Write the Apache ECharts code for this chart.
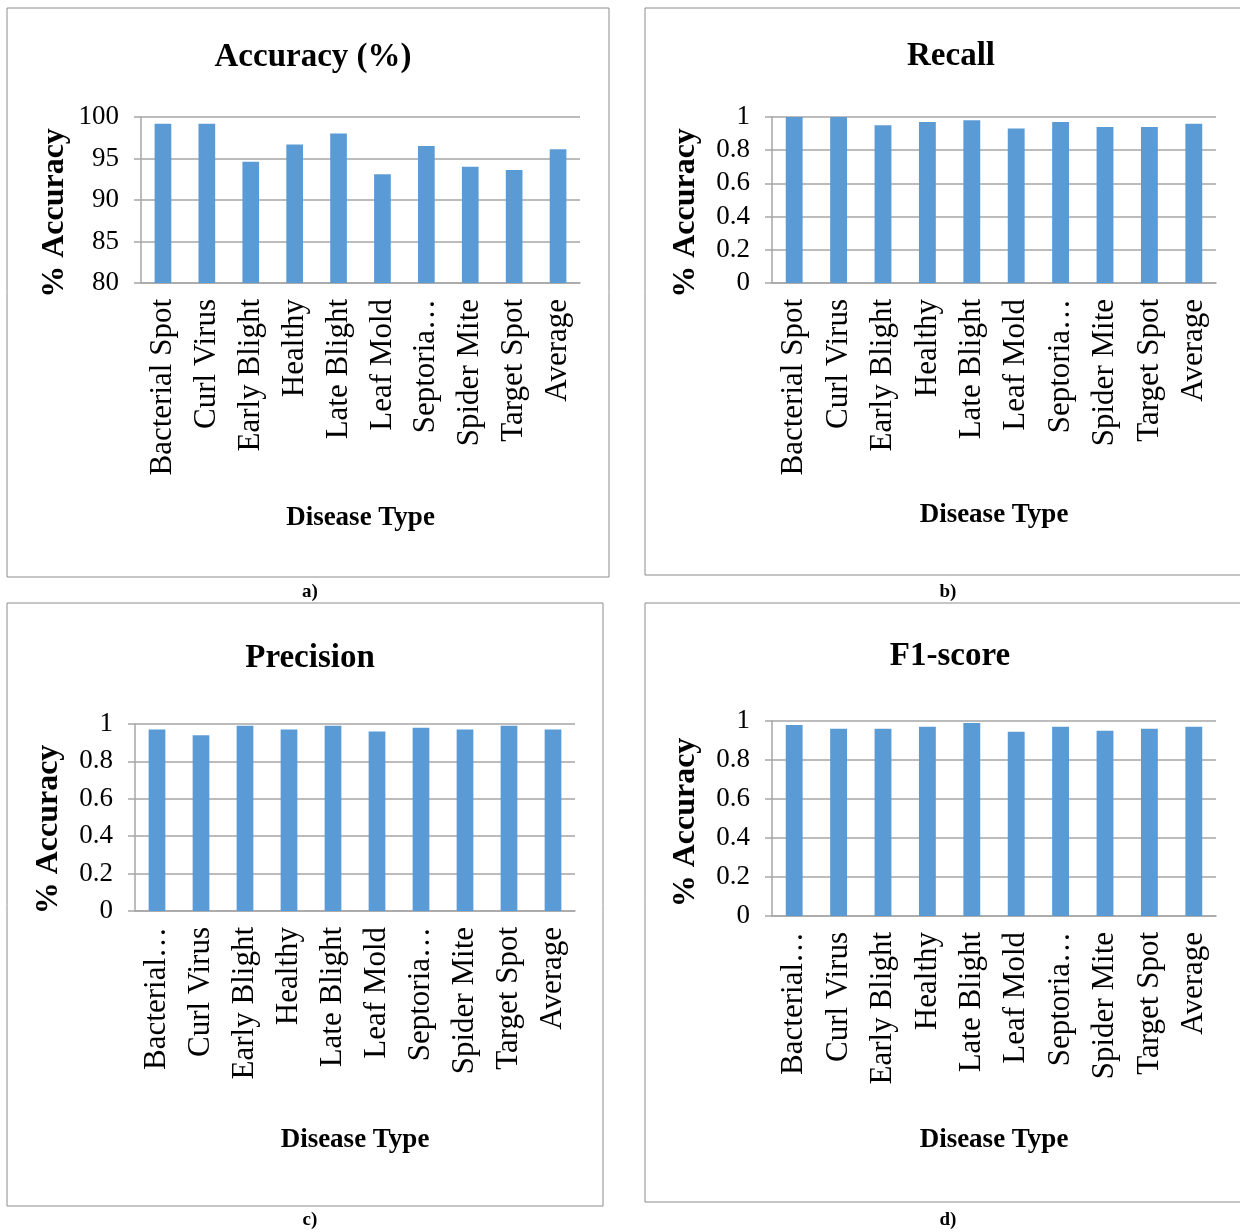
<!DOCTYPE html>
<html>
<head>
<meta charset="utf-8">
<script src="https://cdn.jsdelivr.net/npm/echarts@6/dist/echarts.min.js"></script>
<style>
html,body{margin:0;padding:0;background:#fff;}
#chart{width:1240px;height:1232px;}
</style>
</head>
<body>
<div id="chart"></div>
<script>
// ---- data ----
const categoriesTop = ['Bacterial Spot','Curl Virus','Early Blight','Healthy','Late Blight','Leaf Mold','Septoria…','Spider Mite','Target Spot','Average'];
const categoriesBottom = ['Bacterial…','Curl Virus','Early Blight','Healthy','Late Blight','Leaf Mold','Septoria…','Spider Mite','Target Spot','Average'];
const accuracy = [99.2, 99.2, 94.6, 96.7, 98.0, 93.1, 96.5, 94.0, 93.6, 96.1];
const recall = [1.0, 1.0, 0.95, 0.97, 0.98, 0.93, 0.97, 0.94, 0.94, 0.96];
const precision = [0.97, 0.94, 0.99, 0.97, 0.99, 0.96, 0.98, 0.97, 0.99, 0.97];
const f1score = [0.98, 0.96, 0.96, 0.97, 0.99, 0.945, 0.97, 0.95, 0.96, 0.97];
const titles = ['Accuracy (%)', 'Recall', 'Precision', 'F1-score'];
const panelLabels = ['a)', 'b)', 'c)', 'd)'];
const xAxisName = 'Disease Type';
const yAxisName = '% Accuracy';

const FONT = 'Liberation Serif';
const GRAY = '#a6a6a6';
const BAR = '#5B9BD5';

const chart = echarts.init(document.getElementById('chart'), null, {renderer: 'canvas'});

const grids = [
  {left: 141, top: 117, width: 439, height: 166},
  {left: 772, top: 117, width: 444, height: 166},
  {left: 135, top: 724, width: 440, height: 187},
  {left: 772, top: 721, width: 444, height: 195}
];
const yRanges = [
  {min: 80, max: 100, interval: 5},
  {min: 0, max: 1, interval: 0.2},
  {min: 0, max: 1, interval: 0.2},
  {min: 0, max: 1, interval: 0.2}
];
const xNameGaps = [222, 219, 216, 211];
const yNamePad = [[0, 26, 0, 0], [0, 26, 0, 0], [0, 24, 0, 0], [0, 8, 0, 0]];
const seriesData = [accuracy, recall, precision, f1score];
const cats = [categoriesTop, categoriesTop, categoriesBottom, categoriesBottom];
const titlePos = [
  {left: 308, top: 36},
  {left: 946, top: 35},
  {left: 305, top: 637},
  {left: 945, top: 635}
];

const option = {
  backgroundColor: '#fff',
  animation: false,
  title: titles.map((t, i) => ({
    text: t,
    left: titlePos[i].left,
    top: titlePos[i].top,
    textAlign: 'center',
    textStyle: {fontFamily: FONT, fontWeight: 'bold', fontSize: 33, color: '#000'}
  })),
  grid: grids.map(g => Object.assign({containLabel: false}, g)),
  xAxis: cats.map((c, i) => ({
    type: 'category',
    gridIndex: i,
    data: c,
    axisLine: {show: true, lineStyle: {color: GRAY, width: 1.5}},
    axisTick: {show: false},
    axisLabel: {
      rotate: 90, interval: 0, margin: 16,
      fontFamily: FONT, fontSize: 31, color: '#000'
    },
    name: xAxisName,
    nameLocation: 'middle',
    nameGap: xNameGaps[i],
    nameTextStyle: {fontFamily: FONT, fontWeight: 'bold', fontSize: 27, color: '#000'}
  })),
  yAxis: yRanges.map((r, i) => ({
    type: 'value',
    gridIndex: i,
    min: r.min, max: r.max, interval: r.interval,
    axisLine: {show: true, lineStyle: {color: GRAY, width: 1.5}},
    axisTick: {show: true, inside: false, length: 7, lineStyle: {color: GRAY, width: 1.5}},
    splitLine: {show: true, lineStyle: {color: GRAY, width: 1.5}},
    axisLabel: {margin: 22, fontFamily: FONT, fontSize: 27, color: '#000'},
    name: yAxisName,
    nameLocation: 'middle',
    nameGap: 70,
    nameTextStyle: {fontFamily: FONT, fontWeight: 'bold', fontSize: 32, color: '#000', padding: yNamePad[i]}
  })),
  series: seriesData.map((d, i) => ({
    type: 'bar',
    xAxisIndex: i,
    yAxisIndex: i,
    data: d,
    barWidth: '38%',
    itemStyle: {color: BAR},
    silent: true
  })),
  graphic: [
    {type: 'rect', shape: {x: 7, y: 8, width: 602, height: 569}, style: {fill: 'none', stroke: '#8c8c8c', lineWidth: 1}},
    {type: 'rect', shape: {x: 645, y: 8, width: 620, height: 567}, style: {fill: 'none', stroke: '#8c8c8c', lineWidth: 1}},
    {type: 'rect', shape: {x: 7, y: 603, width: 596, height: 603}, style: {fill: 'none', stroke: '#8c8c8c', lineWidth: 1}},
    {type: 'rect', shape: {x: 645, y: 603, width: 620, height: 599}, style: {fill: 'none', stroke: '#8c8c8c', lineWidth: 1}},
    {type: 'text', x: 310, y: 592, style: {text: panelLabels[0], fontFamily: FONT, fontWeight: 'bold', fontSize: 19, fill: '#000', align: 'center', verticalAlign: 'middle'}},
    {type: 'text', x: 948, y: 592, style: {text: panelLabels[1], fontFamily: FONT, fontWeight: 'bold', fontSize: 19, fill: '#000', align: 'center', verticalAlign: 'middle'}},
    {type: 'text', x: 310, y: 1220, style: {text: panelLabels[2], fontFamily: FONT, fontWeight: 'bold', fontSize: 19, fill: '#000', align: 'center', verticalAlign: 'middle'}},
    {type: 'text', x: 948, y: 1220, style: {text: panelLabels[3], fontFamily: FONT, fontWeight: 'bold', fontSize: 19, fill: '#000', align: 'center', verticalAlign: 'middle'}}
  ]
};
chart.setOption(option);
</script>
</body>
</html>
